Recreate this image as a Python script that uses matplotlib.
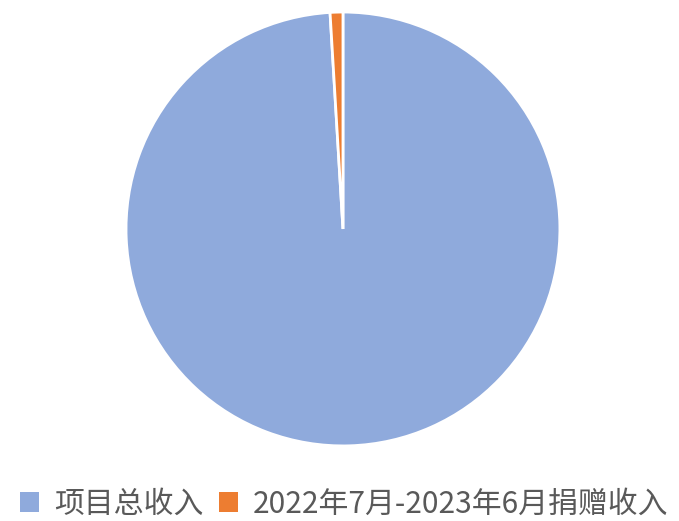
import matplotlib
matplotlib.use("Agg")
import matplotlib.pyplot as plt

plt.rcParams['font.family'] = ['Noto Sans CJK SC', 'DejaVu Sans']

labels = ['项目总收入', '2022年7月-2023年6月捐赠收入']
values = [99.05, 0.95]
colors = ['#8FAADC', '#ED7D31']

fig = plt.figure(figsize=(6.79, 5.21), dpi=100)
ax = fig.add_axes([0.1856, 0.144, 0.639, 0.833])
wedges, _ = ax.pie(values, colors=colors, startangle=90, counterclock=False,
                   wedgeprops=dict(edgecolor='white', linewidth=2))
ax.set_xlim(-1, 1)
ax.set_ylim(-1, 1)
ax.set_aspect('equal')

leg = fig.legend(wedges, labels, loc='center', bbox_to_anchor=(0.507, 0.032), ncol=2,
                 frameon=False, fontsize=21.5, labelcolor='#595959', borderpad=0,
                 handlelength=0.64, handleheight=0.64, handletextpad=0.5, columnspacing=0.5)
for h in leg.legend_handles:
    h.set_edgecolor('none')

fig.savefig('out.png', dpi=100)
